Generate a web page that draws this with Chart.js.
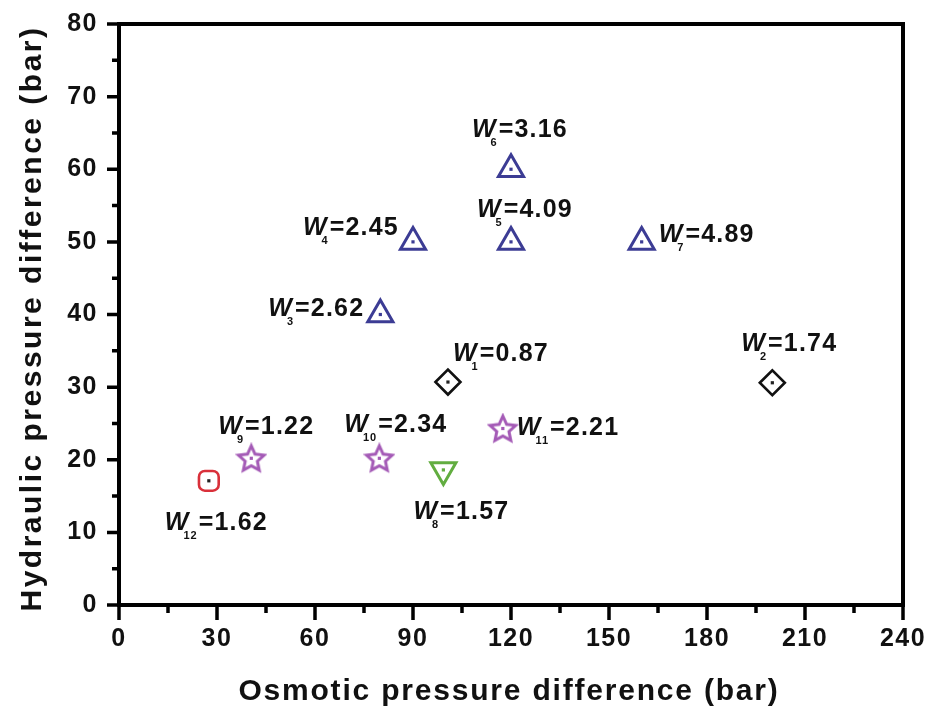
<!DOCTYPE html>
<html>
<head>
<meta charset="utf-8">
<script src="https://cdn.jsdelivr.net/npm/chart.js@4.4.1/dist/chart.umd.min.js"></script>
<style>
  body { margin: 0; background: #fff; }
  canvas { display: block; }
</style>
</head>
<body>
<canvas id="chart" width="929" height="715"></canvas>
<script>
// sample data
let sampleNo = [1, 2, 3, 4, 5, 6, 7, 8, 9, 10, 11, 12];
let osmotic = [100.7, 200, 80, 90, 120, 120, 160, 99.3, 40.5, 79.7, 117.5, 27.5];
let hydraulic = [30.7, 30.6, 40, 50, 50, 60, 50, 18.6, 20.2, 20.2, 24.3, 17.1];
let wValues = ["0.87", "1.74", "2.62", "2.45", "4.09", "3.16", "4.89", "1.57", "1.22", "2.34", "2.21", "1.62"];
let markerGroup = ["diamond", "diamond", "up", "up", "up", "up", "up", "down", "star", "star", "star", "square"];

let xTicks = [0, 30, 60, 90, 120, 150, 180, 210, 240];
let yTicks = [0, 10, 20, 30, 40, 50, 60, 70, 80];

// label placement (px from the marker: left edge of "W", middle of text)
let labelDx = [5, -31, -112, -110, -34, -39, 17, -30, -33, -35, 14, -44];
let labelDy = [-30, -41, -8, -16, -34, -41, -9, 40, -33, -35, -3, 40];

const FONT = '"Liberation Sans", Arial, sans-serif';

function makeStar(color) {
    let c = document.createElement("canvas");
    c.width = 32;
    c.height = 32;
    let g = c.getContext("2d");
    let R = 13.5, r = 6.4;
    g.beginPath();
    for (let k = 0; k < 10; k++) {
        let rad = (k % 2 === 0 ? R : r);
        let a = -Math.PI / 2 + k * Math.PI / 5;
        let px = 16 + rad * Math.cos(a), py = 17 + rad * Math.sin(a);
        if (k === 0) g.moveTo(px, py); else g.lineTo(px, py);
    }
    g.closePath();
    g.lineJoin = "miter";
    g.lineWidth = 3;
    g.strokeStyle = color;
    g.stroke();
    return c;
}

let groupStyle = {
    diamond: { pointStyle: "rectRot", radius: 12.5, color: "#111111", width: 2.6, rotation: 0 },
    up: { pointStyle: "triangle", radius: 14.5, color: "#3c3c94", width: 3, rotation: 0 },
    down: { pointStyle: "triangle", radius: 14.5, color: "#62ad40", width: 3, rotation: 180 },
    star: { pointStyle: makeStar("#a45ab6"), radius: 13, color: "#a45ab6", width: 3, rotation: 0 },
    square: { pointStyle: "rectRounded", radius: 11.5, color: "#d9303a", width: 2.6, rotation: 0 },
};

let groupOrder = ["diamond", "up", "down", "star", "square"];
let datasets = groupOrder.map(function (grp) {
    let st = groupStyle[grp];
    let pts = [];
    for (let i = 0; i < sampleNo.length; i++) {
        if (markerGroup[i] === grp) pts.push({ x: osmotic[i], y: hydraulic[i], i: i });
    }
    return {
        label: grp,
        data: pts,
        pointStyle: st.pointStyle,
        pointRadius: st.radius,
        pointRotation: st.rotation,
        pointBorderColor: st.color,
        pointBorderWidth: st.width,
        pointBackgroundColor: "rgba(0,0,0,0)",
        showLine: false,
    };
});

// frame, ticks, centre dots, labels and axis titles
let decoPlugin = {
    id: "deco",
    beforeDraw(chart) {
        // the original tick numbers are a little wider than Arial
        chart.ctx.letterSpacing = "1.5px";
    },
    beforeDatasetsDraw(chart) {
        let ctx = chart.ctx, a = chart.chartArea;
        let xs = chart.scales.x, ys = chart.scales.y;
        ctx.letterSpacing = "0px";
        ctx.save();
        ctx.strokeStyle = "#000";
        ctx.lineWidth = 4;
        ctx.strokeRect(a.left, a.top, a.right - a.left, a.bottom - a.top);
        ctx.lineWidth = 3.5;
        ctx.beginPath();
        for (let v = xTicks[0]; v <= xTicks[xTicks.length - 1]; v += 15) {
            let px = xs.getPixelForValue(v);
            let len = xTicks.includes(v) ? 15 : 8;
            ctx.moveTo(px, a.bottom);
            ctx.lineTo(px, a.bottom + len);
        }
        for (let v = yTicks[0]; v <= yTicks[yTicks.length - 1]; v += 5) {
            let py = ys.getPixelForValue(v);
            let len = yTicks.includes(v) ? 12 : 7;
            ctx.moveTo(a.left, py);
            ctx.lineTo(a.left - len, py);
        }
        ctx.stroke();
        ctx.restore();
    },
    afterDatasetsDraw(chart) {
        let ctx = chart.ctx;
        ctx.save();
        chart.data.datasets.forEach(function (ds, d) {
            let meta = chart.getDatasetMeta(d);
            meta.data.forEach(function (el, j) {
                let idx = ds.data[j].i;
                // small dot in the middle of every marker
                ctx.fillStyle = (markerGroup[idx] === "diamond" || markerGroup[idx] === "square") ? "#222" : ds.pointBorderColor;
                ctx.fillRect(el.x - 1.6, el.y - 1.6, 3.2, 3.2);
                // W label
                let lx = el.x + labelDx[idx];
                let base = el.y + labelDy[idx] + 9;
                ctx.fillStyle = "#111";
                ctx.textBaseline = "alphabetic";
                ctx.textAlign = "left";
                ctx.letterSpacing = "0px";
                ctx.font = "italic bold 25px " + FONT;
                ctx.fillText("W", lx, base);
                let wW = ctx.measureText("W").width;
                ctx.font = "bold 11px " + FONT;
                ctx.letterSpacing = "1px";
                let sub = String(sampleNo[idx]);
                let subX = lx + wW - 5;
                ctx.fillText(sub, subX, base + 9);
                let subW = ctx.measureText(sub).width;
                ctx.font = "bold 25px " + FONT;
                ctx.letterSpacing = "1.2px";
                ctx.fillText("=" + wValues[idx], Math.max(lx + wW + 3, subX + subW + 1), base);
            });
        });
        ctx.restore();
    },
    afterDraw(chart) {
        let ctx = chart.ctx, a = chart.chartArea;
        ctx.save();
        ctx.fillStyle = "#111";
        ctx.font = "bold 30px " + FONT;
        ctx.letterSpacing = "1.8px";
        ctx.textAlign = "center";
        ctx.textBaseline = "middle";
        ctx.fillText("Osmotic pressure difference (bar)", (a.left + a.right) / 2 - 2, 692);
        ctx.letterSpacing = "2.5px";
        ctx.translate(33, (a.top + a.bottom) / 2 + 4);
        ctx.rotate(-Math.PI / 2);
        ctx.fillText("Hydraulic pressure difference (bar)", 0, 0);
        ctx.restore();
    },
};

let tickFont = { family: FONT, size: 25, weight: "bold" };

let chartOptions = {
    responsive: false,
    animation: false,
    events: [],
    layout: { padding: { top: 24, right: 26, left: 0, bottom: 0 } },
    plugins: {
        legend: { display: false },
        tooltip: { enabled: false },
    },
    scales: {
        x: {
            type: "linear",
            min: 0,
            max: 240,
            border: { display: false },
            grid: { display: true, drawOnChartArea: false, tickLength: 15, tickColor: "rgba(0,0,0,0)" },
            ticks: {
                stepSize: 30,
                autoSkip: false,
                maxRotation: 0,
                padding: 4,
                color: "#111",
                font: tickFont,
            },
            afterFit: function (s) { s.height = 110; },
        },
        y: {
            type: "linear",
            min: 0,
            max: 80,
            border: { display: false },
            grid: { display: true, drawOnChartArea: false, tickLength: 12, tickColor: "rgba(0,0,0,0)" },
            ticks: {
                stepSize: 10,
                padding: 9,
                color: "#111",
                font: tickFont,
            },
            afterFit: function (s) { s.width = 119; },
        },
    },
};

let chartEl = document.getElementById("chart");
let pressureChart = new Chart(chartEl, {
    type: "scatter",
    data: { datasets: datasets },
    options: chartOptions,
    plugins: [decoPlugin],
});
</script>
</body>
</html>
